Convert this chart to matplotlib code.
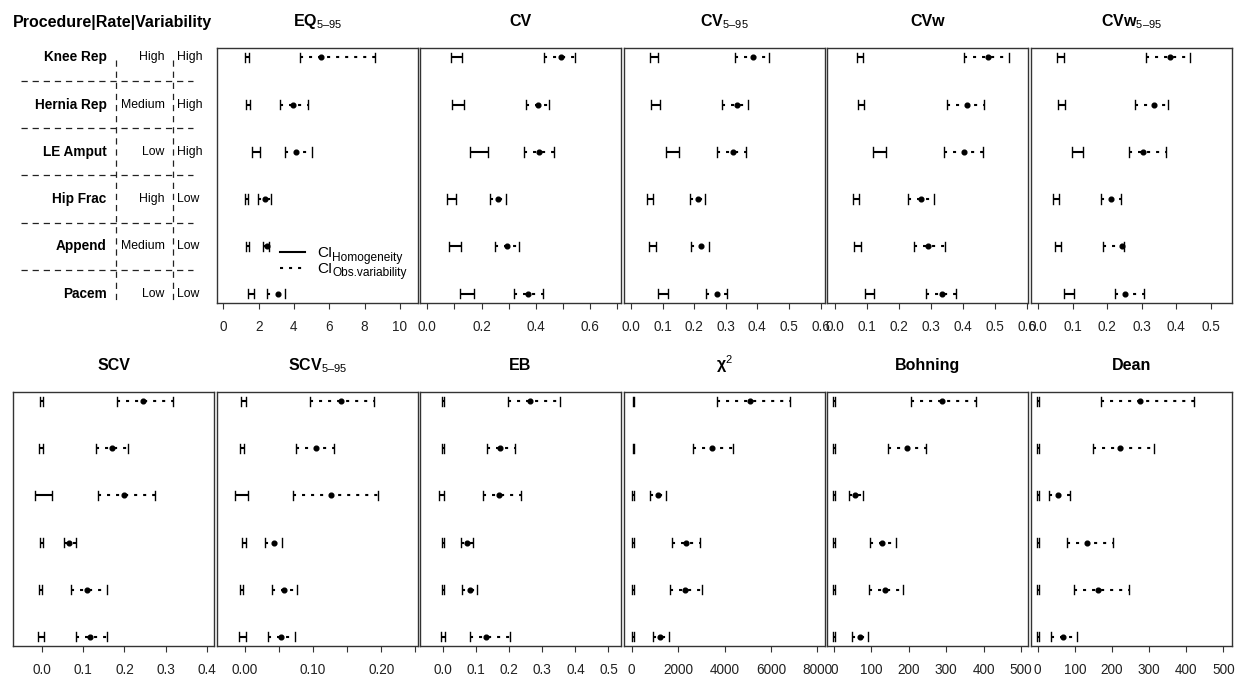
import numpy as np
import matplotlib
matplotlib.use('Agg')
import matplotlib.pyplot as plt

plt.rcParams['font.family'] = ['Liberation Sans', 'DejaVu Sans']
plt.rcParams['mathtext.fontset'] = 'custom'
plt.rcParams['mathtext.rm'] = 'Liberation Sans'
plt.rcParams['mathtext.bf'] = 'Liberation Sans:bold'
plt.rcParams['mathtext.it'] = 'Liberation Sans:italic'
plt.rcParams['lines.scale_dashes'] = False

# rows, top to bottom
procedures = ['Knee Rep', 'Hernia Rep', 'LE Amput', 'Hip Frac', 'Append', 'Pacem']
rates = ['High', 'Medium', 'Low', 'High', 'Medium', 'Low']
variability = ['High', 'High', 'High', 'Low', 'Low', 'Low']

# CI under homogeneity (lo, hi) and CI of observed variability (lo, est, hi)
eq_hom = [(1.22, 1.45), (1.26, 1.50), (1.60, 2.08), (1.22, 1.42), (1.26, 1.47), (1.42, 1.74)]
eq_obs = [(4.34, 5.53, 8.58), (3.20, 3.96, 4.81), (3.49, 4.09, 5.00),
          (1.98, 2.36, 2.70), (2.23, 2.45, 2.60), (2.45, 3.11, 3.49)]

cv_hom = [(0.086, 0.129), (0.090, 0.136), (0.159, 0.223), (0.071, 0.106), (0.081, 0.124), (0.122, 0.172)]
cv_obs = [(0.432, 0.493, 0.545), (0.363, 0.409, 0.450), (0.358, 0.413, 0.468),
          (0.231, 0.259, 0.289), (0.250, 0.293, 0.338), (0.321, 0.373, 0.428)]

cv595_hom = [(0.060, 0.087), (0.065, 0.092), (0.111, 0.151), (0.050, 0.071), (0.056, 0.079), (0.084, 0.116)]
cv595_obs = [(0.329, 0.387, 0.437), (0.289, 0.334, 0.371), (0.271, 0.324, 0.364),
             (0.187, 0.213, 0.234), (0.189, 0.222, 0.248), (0.236, 0.271, 0.305)]

cvw_hom = [(0.067, 0.088), (0.070, 0.091), (0.119, 0.157), (0.054, 0.073), (0.057, 0.080), (0.093, 0.122)]
cvw_obs = [(0.403, 0.476, 0.544), (0.349, 0.410, 0.465), (0.340, 0.402, 0.461),
           (0.227, 0.268, 0.308), (0.247, 0.291, 0.343), (0.283, 0.332, 0.378)]

cvw595_hom = [(0.053, 0.074), (0.056, 0.077), (0.099, 0.131), (0.042, 0.059), (0.049, 0.065), (0.075, 0.103)]
cvw595_obs = [(0.314, 0.382, 0.440), (0.280, 0.337, 0.377), (0.264, 0.303, 0.372),
              (0.182, 0.211, 0.240), (0.187, 0.242, 0.249), (0.224, 0.251, 0.307)]

scv_hom = [(-0.004, 0.004), (-0.006, 0.003), (-0.017, 0.026), (-0.004, 0.003), (-0.006, 0.002), (-0.008, 0.006)]
scv_obs = [(0.181, 0.245, 0.318), (0.131, 0.169, 0.209), (0.137, 0.200, 0.274),
           (0.054, 0.067, 0.083), (0.072, 0.109, 0.157), (0.083, 0.117, 0.159)]

scv595_hom = [(-0.006, 0.001), (-0.007, -0.002), (-0.015, 0.005), (-0.004, 0.0015), (-0.007, -0.003), (-0.009, 0.0015)]
scv595_obs = [(0.096, 0.141, 0.189), (0.075, 0.105, 0.131), (0.071, 0.126, 0.196),
              (0.030, 0.042, 0.054), (0.040, 0.058, 0.077), (0.034, 0.053, 0.074)]

eb_hom = [(-0.003, 0.003), (-0.003, 0.003), (-0.012, 0.003), (-0.003, 0.003), (-0.003, 0.003), (-0.008, 0.004)]
eb_obs = [(0.195, 0.263, 0.354), (0.132, 0.172, 0.217), (0.121, 0.170, 0.235),
          (0.053, 0.073, 0.091), (0.057, 0.081, 0.103), (0.081, 0.129, 0.202)]

chi_hom = [(35, 110), (35, 105), (30, 95), (25, 85), (25, 85), (25, 80)]
chi_obs = [(3690, 5100, 6825), (2658, 3448, 4382), (790, 1150, 1480),
           (1753, 2342, 2945), (1652, 2299, 3046), (905, 1221, 1624)]

boh_hom = [(-1.5, 2.5), (-1.5, 2.5), (-1.5, 2.5), (-1.5, 2.5), (-1.5, 2.5), (-1.5, 2.5)]
boh_obs = [(205, 289, 381), (145, 196, 245), (41, 56, 77), (95, 129, 166), (94, 136, 184), (47, 70, 90)]

dean_hom = [(-1.5, 2.5), (-1.5, 2.5), (-1.5, 2.5), (-1.5, 2.5), (-1.5, 2.5), (-1.5, 2.5)]
dean_obs = [(171, 276, 422), (148, 222, 314), (31, 56, 87), (78, 132, 202), (98, 163, 247), (36, 69, 107)]

W, H = 1241, 680
fig = plt.figure(figsize=(W / 100, H / 100), dpi=100)

def px_axes(x0, y0, x1, y1):
    return fig.add_axes([x0 / W, 1 - y1 / H, (x1 - x0) / W, (y1 - y0) / H])

rows = np.arange(1, len(procedures) + 1)
cap = 0.1
dash = (0, (2.2, 4.3))

def draw_panel(ax, hom, obs, xlim, ticks, labels, title):
    hom = np.array(hom, dtype=float)
    obs = np.array(obs, dtype=float)
    for i, y in enumerate(rows):
        ax.plot([hom[i, 0], hom[i, 1]], [y, y], color='k', lw=1.5, solid_capstyle='butt')
        ax.plot([hom[i, 0]] * 2, [y - cap, y + cap], color='k', lw=1.0)
        ax.plot([hom[i, 1]] * 2, [y - cap, y + cap], color='k', lw=1.0)
        ax.plot([obs[i, 0], obs[i, 2]], [y, y], color='k', lw=1.5, linestyle=dash)
        ax.plot([obs[i, 0]] * 2, [y - cap, y + cap], color='k', lw=1.0)
        ax.plot([obs[i, 2]] * 2, [y - cap, y + cap], color='k', lw=1.0)
    ax.plot(obs[:, 1], rows, 'o', color='k', ms=3.4)
    ax.set_xlim(xlim)
    ax.set_ylim(6.2, 0.8)
    ax.set_yticks([])
    ax.set_xticks(ticks)
    ax.set_xticklabels(labels)
    ax.tick_params(axis='x', direction='out', length=4.3, width=0.8, color='#333333',
                   pad=8, labelsize=9.8, labelcolor='#222222')
    for s in ax.spines.values():
        s.set_linewidth(1.0)
        s.set_color('#333333')
    if title.startswith('$'):
        ax.set_title(title, fontsize=11.5, pad=15.8)
    else:
        ax.set_title(title, fontsize=11.5, fontweight='bold', pad=15.8)

top = (48, 303)
bot = (392, 646)
top_x = [217, 420, 624, 827, 1031]
bot_x = [13, 217, 420, 624, 827, 1031]
pw = 201

panels_top = [
    (eq_hom, eq_obs, (-0.357, 11.02), [0, 2, 4, 6, 8, 10], ['0', '2', '4', '6', '8', '10'],
     r'$\mathbf{EQ}_{\mathrm{5–95}}$'),
    (cv_hom, cv_obs, (-0.027, 0.7145), [0, 0.1, 0.2, 0.3, 0.4, 0.5, 0.6, 0.7],
     ['0.0', '', '0.2', '', '0.4', '', '0.6', ''], 'CV'),
    (cv595_hom, cv595_obs, (-0.022, 0.614), [0, 0.1, 0.2, 0.3, 0.4, 0.5, 0.6],
     ['0.0', '0.1', '0.2', '0.3', '0.4', '0.5', '0.6'], r'$\mathbf{CV}_{\mathrm{5–95}}$'),
    (cvw_hom, cvw_obs, (-0.026, 0.602), [0, 0.1, 0.2, 0.3, 0.4, 0.5, 0.6],
     ['0.0', '0.1', '0.2', '0.3', '0.4', '0.5', '0.6'], 'CVw'),
    (cvw595_hom, cvw595_obs, (-0.021, 0.562), [0, 0.1, 0.2, 0.3, 0.4, 0.5],
     ['0.0', '0.1', '0.2', '0.3', '0.4', '0.5'], r'$\mathbf{CVw}_{\mathrm{5–95}}$'),
]
panels_bot = [
    (scv_hom, scv_obs, (-0.069, 0.416), [0, 0.1, 0.2, 0.3, 0.4],
     ['0.0', '0.1', '0.2', '0.3', '0.4'], 'SCV'),
    (scv595_hom, scv595_obs, (-0.041, 0.254), [0, 0.05, 0.10, 0.15, 0.20, 0.25],
     ['0.00', '', '0.10', '', '0.20', ''], r'$\mathbf{SCV}_{\mathrm{5–95}}$'),
    (eb_hom, eb_obs, (-0.0706, 0.538), [0, 0.1, 0.2, 0.3, 0.4, 0.5],
     ['0.0', '0.1', '0.2', '0.3', '0.4', '0.5'], 'EB'),
    (chi_hom, chi_obs, (-332, 8332), [0, 2000, 4000, 6000, 8000],
     ['0', '2000', '4000', '6000', '8000'], r'$\mathbf{χ}^{\mathrm{2}}$'),
    (boh_hom, boh_obs, (-18.7, 518.7), [0, 100, 200, 300, 400, 500],
     ['0', '100', '200', '300', '400', '500'], 'Bohning'),
    (dean_hom, dean_obs, (-18.0, 523.3), [0, 100, 200, 300, 400, 500],
     ['0', '100', '200', '300', '400', '500'], 'Dean'),
]

axes_top = []
for x0, p in zip(top_x, panels_top):
    ax = px_axes(x0, top[0], x0 + pw, top[1])
    draw_panel(ax, *p)
    axes_top.append(ax)
for x0, p in zip(bot_x, panels_bot):
    ax = px_axes(x0, bot[0], x0 + pw, bot[1])
    draw_panel(ax, *p)

# legend inside EQ panel
ax = axes_top[0]
ax.plot([3.21, 4.62], [5.12, 5.12], color='k', lw=1.5)
ax.plot([3.21, 4.62], [5.46, 5.46], color='k', lw=1.5, linestyle=dash)
for yb, sub in [(5.23, 'Homogeneity'), (5.56, 'Obs.variability')]:
    ax.text(5.29, yb, 'CI', fontsize=11, va='baseline', ha='left')
    ax.annotate(sub, xy=(5.29, yb), xytext=(11, -2.5), textcoords='offset points',
                fontsize=8.6, va='baseline', ha='left', annotation_clip=False)

# left label block
axl = px_axes(0, top[0], 216, top[1])
axl.set_xlim(0, 216)
axl.set_ylim(6.2, 0.8)
axl.axis('off')
for y, p, r, v in zip(rows, procedures, rates, variability):
    axl.text(106.5, y, p, ha='right', va='center', fontsize=9.8, fontweight='bold')
    axl.text(164.5, y, r, ha='right', va='center', fontsize=8.8)
    axl.text(176.5, y, v, ha='left', va='center', fontsize=8.8)
ldash = (0, (4.5, 3.5))
for xv in [115.7, 173.3]:
    axl.plot([xv, xv], [1.054, 6.14], color='#222222', lw=0.9, linestyle=ldash)
for yh in rows[:-1] + 0.5:
    axl.plot([20.7, 193.3], [yh, yh], color='#222222', lw=0.9, linestyle=ldash)

fig.text(112 / W, 1 - 26.7 / H, 'Procedure|Rate|Variability', ha='center', va='baseline',
         fontsize=11.5, fontweight='bold')

fig.savefig('out.png', dpi=100)
